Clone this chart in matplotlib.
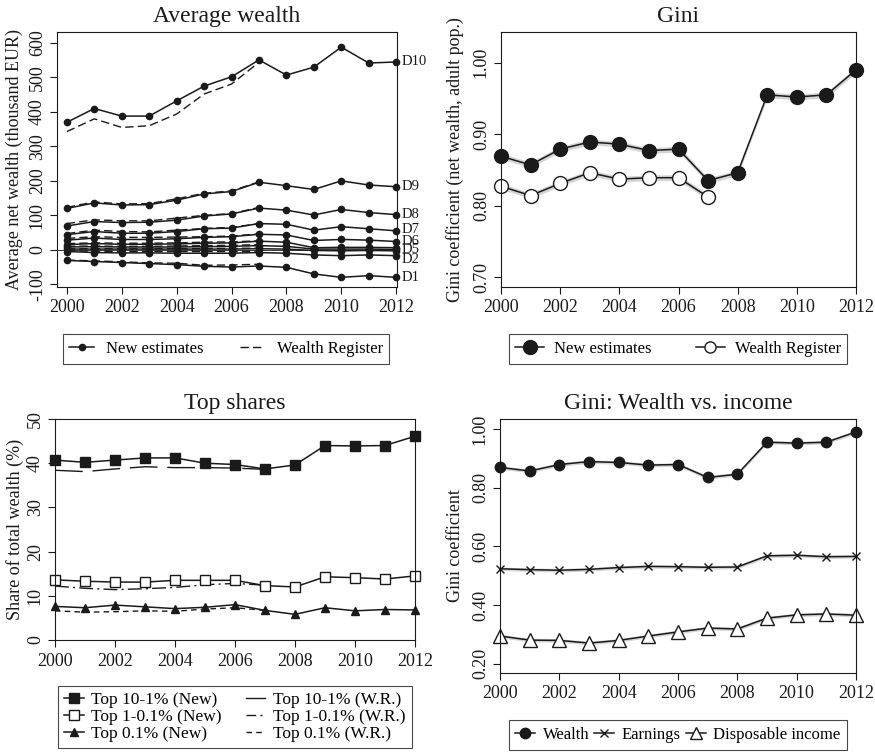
import numpy as np
import matplotlib
matplotlib.use("Agg")
import matplotlib.pyplot as plt
from matplotlib.lines import Line2D

plt.rcParams['font.family'] = ['Liberation Serif', 'DejaVu Serif']

years = list(range(2000, 2013))
years_wr = list(range(2000, 2008))

# --- Average wealth by decile (thousand EUR) ---
dec_new = {
    'D10': [370, 410, 388, 388, 432, 475, 502, 551, 507, 530, 588, 542, 545],
    'D9': [120, 136, 130, 131, 144, 162, 169, 196, 186, 175, 200, 188, 183],
    'D8': [69, 82, 79, 80, 86, 98, 104, 121, 115, 101, 117, 108, 102],
    'D7': [44, 53, 48, 48, 53, 61, 63, 76, 74, 57, 67, 61, 55],
    'D6': [28, 34, 30, 30, 32, 36, 38, 45, 43, 27, 30, 28, 24],
    'D5': [15, 18, 16, 16, 17, 19, 20, 25, 22, 6, 7, 7, 6],
    'D4': [8, 9, 8, 8, 8, 9, 10, 12, 10, 2, 2, 2, 1],
    'D3': [2, 2, 2, 2, 2, 2, 2, 3, 2, -2, -3, -2, -3],
    'D2': [-5, -8, -9, -9, -10, -10, -10, -8, -10, -15, -17, -15, -17],
    'D1': [-31, -34, -37, -40, -43, -48, -50, -47, -51, -70, -80, -75, -80],
}
dec_wr = {
    'D10': [343, 380, 355, 360, 394, 452, 481, 544],
    'D9': [123, 139, 133, 134, 148, 164, 171, 197],
    'D8': [76, 87, 84, 84, 92, 100, 105, 123],
    'D7': [47, 57, 53, 52, 57, 62, 65, 76],
    'D6': [33, 38, 36, 36, 37, 38, 40, 46],
    'D5': [18, 20, 19, 19, 20, 22, 23, 26],
    'D4': [10, 11, 10, 10, 11, 12, 13, 15],
    'D3': [3, 3, 3, 3, 3, 4, 4, 5],
    'D2': [-3, -4, -5, -5, -5, -5, -5, -4],
    'D1': [-30, -32, -35, -38, -39, -45, -44, -42],
}
# deciles labelled at the right edge in the original (D3, D4 are not labelled)
dec_shown = ['D10', 'D9', 'D8', 'D7', 'D6', 'D5', 'D2', 'D1']

# --- Gini of net wealth ---
gini_new = [0.869, 0.857, 0.879, 0.889, 0.886, 0.877, 0.879, 0.835, 0.846, 0.955, 0.952, 0.955, 0.990]
gini_wr = [0.827, 0.814, 0.831, 0.846, 0.837, 0.839, 0.839, 0.812]

# --- Top shares (%) ---
top10_1_new = [40.7, 40.2, 40.7, 41.2, 41.2, 40.0, 39.7, 38.7, 39.6, 44.0, 43.9, 44.0, 46.1]
top1_01_new = [13.6, 13.3, 13.1, 13.1, 13.5, 13.5, 13.5, 12.3, 12.0, 14.3, 14.1, 13.8, 14.5]
top01_new = [7.6, 7.3, 7.9, 7.5, 7.1, 7.4, 8.0, 6.7, 5.8, 7.3, 6.6, 6.9, 6.8]
top10_1_wr = [38.4, 38.1, 38.7, 39.2, 39.0, 39.0, 38.9, 38.6]
top1_01_wr = [12.2, 11.7, 11.4, 11.6, 11.9, 12.5, 12.8, 12.4]
top01_wr = [6.6, 6.3, 6.4, 6.6, 6.5, 7.0, 7.3, 6.7]

# --- Gini: wealth vs income ---
gini_earn = [0.524, 0.521, 0.519, 0.522, 0.528, 0.532, 0.531, 0.529, 0.530, 0.568, 0.570, 0.565, 0.566]
gini_disp = [0.295, 0.281, 0.280, 0.271, 0.280, 0.295, 0.309, 0.322, 0.319, 0.356, 0.367, 0.370, 0.366]

K = '#1a1a1a'
BAND = '#d4d4d4'
xticks = list(range(2000, 2013, 2))

fig = plt.figure(figsize=(8.75, 7.53), dpi=100)
W, H = 875, 753


def add_axes(x0, y0, x1, y1):
    return fig.add_axes([x0 / W, 1 - y1 / H, (x1 - x0) / W, (y1 - y0) / H])


def style(ax, yticks, ylabels, title, ylabel, ylab_x):
    ax.set_xticks(xticks)
    ax.set_yticks(yticks)
    ax.set_yticklabels(ylabels, rotation=90, va='center')
    ax.tick_params(direction='out', length=5, width=0.8, labelsize=13, pad=4, colors=K)
    ax.tick_params(axis='y', pad=3)
    for s in ax.spines.values():
        s.set_linewidth(0.8)
        s.set_color(K)
    ax.set_title(title, fontsize=17, pad=7, color=K)
    ax.set_ylabel(ylabel, fontsize=13, color=K)
    ax.yaxis.set_label_coords(ylab_x, 0.5)
    ax.yaxis.label.set_verticalalignment('center')


def legend_box(ax, handles, labels, center, ncol, fs=12, **kw):
    cx, cy = center
    leg = ax.legend(handles, labels, loc='center', bbox_to_anchor=(cx / W, 1 - cy / H),
                    bbox_transform=fig.transFigure, ncol=ncol, fancybox=False,
                    edgecolor=K, fontsize=fs, borderaxespad=0, **kw)
    leg.get_frame().set_linewidth(0.8)
    return leg


# ---------------- Panel 1: Average wealth ----------------
ax1 = add_axes(57, 32, 397, 287)
ax1.axhline(0, color=K, lw=0.6)
for d in dec_new:
    ax1.plot(years_wr, dec_wr[d], color=K, lw=1.0, ls=(0, (6, 3)))
    ax1.plot(years, dec_new[d], color=K, lw=1.1, marker='o', ms=4.5, clip_on=False)
nudge = {'D7': 1, 'D5': -1, 'D2': -3}
for d in dec_shown:
    ax1.annotate(d, (years[-1], dec_new[d][-1]), xytext=(4, nudge.get(d, 0)),
                 textcoords='offset points', va='center', ha='left', fontsize=10.5,
                 color=K, annotation_clip=False)
ax1.set_xlim(1999.64, 2012.03)
ax1.set_ylim(-108, 632)
style(ax1, range(-100, 601, 100), [str(v) for v in range(-100, 601, 100)],
      'Average wealth', 'Average net wealth (thousand EUR)', -0.125)
h1 = [Line2D([], [], color=K, lw=1.1, marker='o', ms=4.5),
      Line2D([], [], color=K, lw=1.0, ls=(0, (6, 3)))]
legend_box(ax1, h1, ['New estimates', 'Wealth Register'], (226, 349), 2,
           handlelength=1.5, handletextpad=0.7, columnspacing=2.2)

# ---------------- Panel 2: Gini ----------------
ax2 = add_axes(501, 32, 856, 287)
ax2.fill_between(years, np.array(gini_new) - 0.004, np.array(gini_new) + 0.004, color=BAND, lw=0)
ax2.fill_between(years_wr, np.array(gini_wr) - 0.004, np.array(gini_wr) + 0.004, color=BAND, lw=0)
ax2.plot(years, gini_new, color=K, lw=1.1, marker='o', ms=10, clip_on=False)
ax2.plot(years_wr, gini_wr, color=K, lw=1.1, marker='o', ms=10, mfc='white', mec=K,
         mew=1.0, clip_on=False)
ax2.set_xlim(2000, 2012)
ax2.set_ylim(0.686, 1.043)
style(ax2, [0.7, 0.8, 0.9, 1.0], ['0.70', '0.80', '0.90', '1.00'],
      'Gini', 'Gini coefficient (net wealth, adult pop.)', -0.13)
h2 = [Line2D([], [], color=K, lw=1.1, marker='o', ms=10),
      Line2D([], [], color=K, lw=1.1, marker='o', ms=8, mfc='white', mec=K)]
legend_box(ax2, h2, ['New estimates', 'Wealth Register'], (678, 349), 2,
           handlelength=1.7, handletextpad=0.6, columnspacing=2.7)

# ---------------- Panel 3: Top shares ----------------
ax3 = add_axes(55, 419, 415, 640)
ls10 = (0, (20, 7))
ls1 = (0, (10, 3, 1.5, 3))
ls01 = (0, (4, 3))
ax3.plot(years_wr, top10_1_wr, color=K, lw=1.0, ls=ls10)
ax3.plot(years_wr, top1_01_wr, color=K, lw=1.0, ls=ls1)
ax3.plot(years_wr, top01_wr, color=K, lw=1.0, ls=ls01)
ax3.plot(years, top10_1_new, color=K, lw=1.1, marker='s', ms=7.5, clip_on=False)
ax3.plot(years, top1_01_new, color=K, lw=1.1, marker='s', ms=7.5, mfc='white', mec=K,
         mew=1.0, clip_on=False)
ax3.plot(years, top01_new, color=K, lw=1.1, marker='^', ms=5.5, clip_on=False)
ax3.set_xlim(2000, 2012)
ax3.set_ylim(0, 50)
style(ax3, range(0, 51, 10), [str(v) for v in range(0, 51, 10)],
      'Top shares', 'Share of total wealth (%)', -0.11)
h3 = [Line2D([], [], color=K, lw=1.1, marker='s', ms=7.5),
      Line2D([], [], color=K, lw=1.1, marker='s', ms=7.5, mfc='white', mec=K),
      Line2D([], [], color=K, lw=1.1, marker='^', ms=5.5),
      Line2D([], [], color=K, lw=1.0),
      Line2D([], [], color=K, lw=1.0, ls=(0, (7, 3, 1.5, 3))),
      Line2D([], [], color=K, lw=1.0, ls=ls01)]
legend_box(ax3, h3, ['Top 10-1% (New)', 'Top 1-0.1% (New)', 'Top 0.1% (New)',
                     'Top 10-1% (W.R.)', 'Top 1-0.1% (W.R.)', 'Top 0.1% (W.R.)'],
           (235, 717), 2, fs=12.5, handlelength=1.1, handletextpad=0.45,
           columnspacing=1.4, labelspacing=0.05, borderpad=0.35)

# ---------------- Panel 4: Gini wealth vs income ----------------
ax4 = add_axes(500, 419, 856, 673)
for s in (gini_new, gini_earn, gini_disp):
    ax4.fill_between(years, np.array(s) - 0.006, np.array(s) + 0.006, color=BAND, lw=0)
ax4.plot(years, gini_new, color=K, lw=1.1, marker='o', ms=7.5, clip_on=False)
ax4.plot(years, gini_earn, color=K, lw=1.1, marker='x', ms=6, mew=1.0, clip_on=False)
ax4.plot(years, gini_disp, color=K, lw=1.1, marker='^', ms=9.5, mfc='white', mec=K,
         mew=1.0, clip_on=False)
ax4.set_xlim(2000, 2012)
ax4.set_ylim(0.169, 1.034)
style(ax4, [0.2, 0.4, 0.6, 0.8, 1.0], ['0.20', '0.40', '0.60', '0.80', '1.00'],
      'Gini: Wealth vs. income', 'Gini coefficient', -0.125)
h4 = [Line2D([], [], color=K, lw=1.1, marker='o', ms=7.5),
      Line2D([], [], color=K, lw=1.1, marker='x', ms=6),
      Line2D([], [], color=K, lw=1.1, marker='^', ms=9, mfc='white', mec=K)]
legend_box(ax4, h4, ['Wealth', 'Earnings', 'Disposable income'], (678, 735), 3,
           handlelength=1.2, handletextpad=0.45, columnspacing=0.3)

fig.savefig('out.png', dpi=100)
